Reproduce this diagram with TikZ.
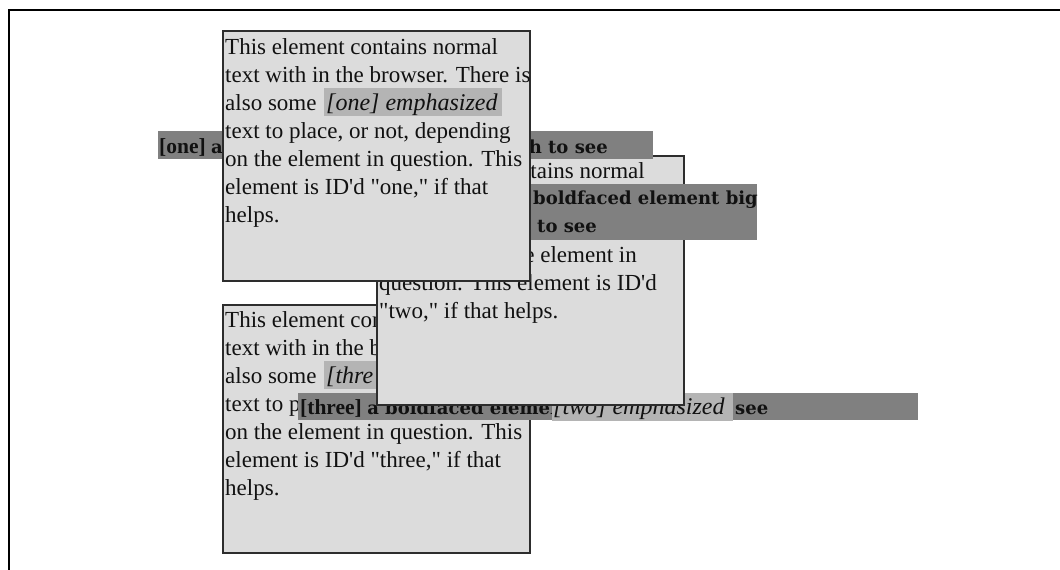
\documentclass[tikz,border=0pt]{standalone}
\usepackage{fontspec}
\setmainfont{Liberation Serif}
\newfontfamily\dvs{DejaVu Serif}
\definecolor{boxfill}{RGB}{220,220,220}
\definecolor{boxline}{RGB}{45,45,45}
\definecolor{barfill}{RGB}{128,128,128}
\definecolor{emfill}{RGB}{180,180,180}
\definecolor{ink}{RGB}{17,17,17}
\begin{document}
\begin{tikzpicture}[x=1pt,y=-1pt,
  panel/.style={fill=boxfill,draw=boxline,line width=2pt},
  bar/.style={fill=barfill},
  emback/.style={fill=emfill},
  txt/.style={anchor=base west,inner sep=0pt,text=ink,font=\fontsize{23}{28}\selectfont},
  txtr/.style={txt,anchor=base east},
  emtxt/.style={txt,font=\itshape\fontsize{24}{28}\selectfont},
  bold/.style={txt,font=\dvs\bfseries\fontsize{18}{28}\selectfont},
  boldr/.style={bold,anchor=base east},
  tag/.style={txt,font=\bfseries\fontsize{21.5}{28}\selectfont},
  frame/.style={draw=black,line width=2pt}]
\useasboundingbox (0,0) rectangle (1060,570);
% outer frame
\coordinate (fa) at (9,570);
\coordinate (fb) at (9,10);
\coordinate (fc) at (1060,10);
\draw[frame] (fa) -- (fb) -- (fc);
% box three
\draw[panel] (223,305) rectangle (530,553);
\node[txt] (t3a) at (225,327) {This element con};
\node[txt] (t3b) at (225,355) {text with in the b};
\fill[emback] (324,361) rectangle (392,389);
\node[txt] (t3c) at (225,383) {also some};
\node[emtxt] (t3e) at (326,383) {[thre};
\node[txt] (t3d) at (225,411) {text to p};
\node[txt] (t3f) at (225,439) {on the element in question. This};
\node[txt] (t3g) at (225,467) {element is ID\textquotesingle d \textquotedbl three,\textquotedbl{} if that};
\node[txt] (t3h) at (225,495) {helps.};
% bar three
\fill[bar] (298,393) rectangle (918,420);
\node[tag] (b3) at (300,414) {[three] {\dvs\fontsize{18}{28}\selectfont a boldfaced element}};
\fill[emback] (552,393) rectangle (733,421);
\node[emtxt] (e2) at (553,414) {[two] emphasized};
\node[bold] (s3) at (735,414) {see};
% box two
\draw[panel] (377,156) rectangle (684,405);
\node[txtr] (t2a) at (645,178) {tains normal};
\fill[bar] (379,184) rectangle (757,240);
\node[bold] (b2a) at (533,204) {boldfaced element big};
\node[bold] (b2b) at (537,232) {to see};
\node[txtr] (t2d) at (637,262) {e element in};
\node[txt] (t2e) at (379,290) {question. This element is ID\textquotesingle d};
\node[txt] (t2f) at (379,318) {\textquotedbl two,\textquotedbl{} if that helps.};
% bar one
\fill[bar] (158,131) rectangle (653,159);
\node[tag] (b1a) at (159,153) {[one] {\dvs\fontsize{18}{28}\selectfont a}};
\node[boldr] (b1b) at (608,153) {h to see};
% box one
\draw[panel] (223,31) rectangle (530,281);
\node[txt] (t1a) at (225,54) {This element contains normal};
\node[txt] (t1b) at (225,82) {text with in the browser. There is};
\fill[emback] (324,88) rectangle (502,116);
\node[txt] (t1c) at (225,110) {also some};
\node[emtxt] (t1e) at (326,110) {[one] emphasized};
\node[txt] (t1d) at (225,138) {text to place, or not, depending};
\node[txt] (t1f) at (225,166) {on the element in question. This};
\node[txt] (t1g) at (225,194) {element is ID\textquotesingle d \textquotedbl one,\textquotedbl{} if that};
\node[txt] (t1h) at (225,222) {helps.};
\end{tikzpicture}
\end{document}
